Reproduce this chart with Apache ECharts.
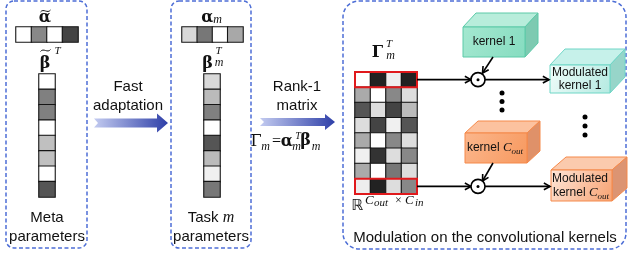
<!DOCTYPE html>
<html><head><meta charset="utf-8">
<script src="https://cdn.jsdelivr.net/npm/echarts@6/dist/echarts.min.js"></script>
<style>html,body{margin:0;padding:0;background:#fff}#c{width:629px;height:256px}</style>
</head><body><div id="c"></div><script>
// gray levels (0 = black, 255 = white)
const metaAlpha = [[255, 136, 255, 68]];
const metaBeta = [[255],[128],[128],[255],[192],[192],[255],[85]];
const taskAlpha = [[216, 119, 255, 168]];
const taskBeta = [[217],[187],[128],[255],[85],[187],[240],[119]];
const gammaRows = [
  [255, 34, 238, 34],
  [170, 255, 136, 221],
  [85, 221, 68, 187],
  [221, 68, 240, 85],
  [170, 255, 136, 221],
  [240, 51, 221, 136],
  [170, 255, 119, 221],
  [238, 34, 221, 136]
];
const highlightRows = [0, 7];

const SANS = 'Liberation Sans', SERIF = 'Liberation Serif', GREEK = 'DejaVu Serif';
const chart = echarts.init(document.getElementById('c'));

const gridDefs = [
  {left:16, top:27, width:62, height:15},
  {left:39, top:74, width:16, height:123},
  {left:182, top:27, width:61, height:15},
  {left:204, top:74, width:16, height:123},
  {left:355, top:72, width:62, height:122}
];
const mats = [metaAlpha, metaBeta, taskAlpha, taskBeta, gammaRows];
const xAxis = [], yAxis = [], series = [];
mats.forEach((m, gi) => {
  const nr = m.length, nc = m[0].length;
  xAxis.push({gridIndex:gi, type:'category', data:[...Array(nc).keys()], show:false});
  yAxis.push({gridIndex:gi, type:'category', data:[...Array(nr).keys()], inverse:true, show:false});
  const data = [];
  m.forEach((row, i) => row.forEach((v, j) => data.push([j, i, v])));
  series.push({type:'heatmap', xAxisIndex:gi, yAxisIndex:gi, data, silent:true,
    itemStyle:{borderColor:'#151515', borderWidth:1.1}, emphasis:{disabled:true}});
});

function T(x, y, text, size, opt) {
  return {type:'text', x, y, z:20, style:Object.assign({text, fontSize:size, fontFamily:SANS,
    fill:'#111', align:'center', verticalAlign:'middle'}, opt || {})};
}
function M(x, y, text, size, opt) { // math italic
  return T(x, y, text, size, Object.assign({fontFamily:SERIF, fontStyle:'italic'}, opt || {}));
}
function B(x, y, text, size, opt) { // bold greek
  return T(x, y, text, size, Object.assign({fontFamily:GREEK, fontWeight:'bold'}, opt || {}));
}
function tilde(cx, cy) {
  return {type:'bezierCurve', z:21, shape:{x1:cx-5, y1:cy+1, cpx1:cx-2, cpy1:cy-3, cpx2:cx+2, cpy2:cy+3, x2:cx+5, y2:cy-1},
    style:{stroke:'#111', lineWidth:1, fill:null}};
}
function arrowEls(x1, y1, x2, y2) {
  const a = Math.atan2(y2 - y1, x2 - x1), L = 7, w = 0.5;
  const p1 = [x2 - L*Math.cos(a-w), y2 - L*Math.sin(a-w)];
  const p2 = [x2 - L*Math.cos(a+w), y2 - L*Math.sin(a+w)];
  return [
    {type:'line', z:15, shape:{x1, y1, x2, y2}, style:{stroke:'#000', lineWidth:1.6}},
    {type:'polyline', z:15, shape:{points:[p1, [x2, y2], p2]}, style:{stroke:'#000', lineWidth:1.6, fill:null}}
  ];
}
function bigArrow(x0, xb, xt, yc, bh, hh) {
  return {type:'polygon', z:5, shape:{points:[[x0, yc-bh],[xb, yc-bh],[xb, yc-hh],[xt, yc],[xb, yc+hh],[xb, yc+bh],[x0, yc+bh],[x0+4, yc]]},
    style:{fill:{type:'linear', x:0, y:0, x2:1, y2:0, colorStops:[{offset:0, color:'#c3cbf0'},{offset:1, color:'#2e3fa8'}]}}};
}
function cube(x, y, w, h, dx, dy, c) {
  return [
    {type:'polygon', z:8, shape:{points:[[x,y],[x+dx,y-dy],[x+w+dx,y-dy],[x+w,y]]}, style:{fill:c.top, stroke:c.edge, lineWidth:1}},
    {type:'polygon', z:8, shape:{points:[[x+w,y],[x+w+dx,y-dy],[x+w+dx,y+h-dy],[x+w,y+h]]}, style:{fill:c.side, stroke:c.edge, lineWidth:1}},
    {type:'rect', z:8, shape:{x, y, width:w, height:h}, style:{fill:{type:'linear', x:0, y:0, x2:1, y2:1,
      colorStops:[{offset:0, color:c.f0},{offset:1, color:c.f1}]}, stroke:c.edge, lineWidth:1}}
  ];
}
function odot(cx, cy) {
  return [
    {type:'circle', z:16, shape:{cx, cy, r:7}, style:{fill:'#fff', stroke:'#000', lineWidth:1.6}},
    {type:'circle', z:17, shape:{cx, cy, r:1.5}, style:{fill:'#000'}}
  ];
}
function dot(cx, cy) { return {type:'circle', z:16, shape:{cx, cy, r:2.5}, style:{fill:'#000'}}; }
function L(x, y, text, size, opt) { return M(x, y, text, size, Object.assign({align:'left'}, opt || {})); }

const dash = {stroke:'#4d6ed6', lineWidth:1.5, lineDash:[4, 2.5], fill:null};
const green = {top:'#b8eddb', side:'#7dcab1', f0:'#a4e8d0', f1:'#86dcc0', edge:'#5ccaa8'};
const cyan = {top:'#c6f1ea', side:'#97d5c9', f0:'#f0fcfa', f1:'#b4eae1', edge:'#6fd6c6'};
const orange = {top:'#fcc29f', side:'#df9169', f0:'#fbb68c', f1:'#f7995f', edge:'#f5894a'};
const orange2 = {top:'#fbcaad', side:'#dc9472', f0:'#fee6d8', f1:'#f6a272', edge:'#f5894a'};

const g = gridDefs[4];
const rowH = g.height / gammaRows.length;
const els = [];
// panels
els.push({type:'rect', z:1, shape:{x:6, y:1, width:81, height:247, r:8}, style:dash});
els.push({type:'rect', z:1, shape:{x:171, y:1, width:80, height:247, r:8}, style:dash});
els.push({type:'rect', z:1, shape:{x:343, y:1, width:283, height:248, r:16}, style:dash});
// big arrows
els.push(bigArrow(94, 157, 168, 123, 4.5, 9.5));
els.push(bigArrow(260, 325, 335, 122, 4, 8));
// texts
els.push(T(47, 218, 'Meta', 15), T(47, 237, 'parameters', 15));
els.push(T(211, 218, 'Task {m|m}', 15, {rich:{m:{fontFamily:SERIF, fontStyle:'italic', fontSize:16}}}), T(211, 237, 'parameters', 15));
els.push(T(128, 87, 'Fast', 15), T(128, 106, 'adaptation', 15));
els.push(T(297, 87, 'Rank-1', 15), T(297, 106, 'matrix', 15));
els.push(T(485, 238, 'Modulation on the convolutional kernels', 15));
// math labels
els.push(B(45, 18, 'α', 16), tilde(45.5, 11));
els.push(B(45, 64, 'β', 16), tilde(45.5, 50.5), M(57.5, 51.5, 'T', 11));
els.push(B(207.5, 18, 'α', 16), M(217.5, 20, 'm', 12));
els.push(B(207.5, 64, 'β', 16), M(218.5, 51.5, 'T', 11), M(219, 63, 'm', 12));
els.push(B(377.5, 52.5, 'Γ', 16), M(389, 44.5, 'T', 11), M(390.5, 55.5, 'm', 12));
els.push(T(256, 141.5, 'Γ', 16, {fontFamily:GREEK}), M(265.5, 147, 'm', 12), T(276.5, 141.5, '=', 16, {fontFamily:SERIF}),
  B(287, 141.5, 'α', 16), M(298, 136, 'T', 10), M(296.5, 147, 'm', 12), B(305.5, 140.5, 'β', 16), M(316, 147, 'm', 12));
// R^{Cout x Cin}
els.push(T(357.5, 206.5, 'ℝ', 15, {fontFamily:'DejaVu Sans'}));
els.push(L(365, 200.5, 'C', 13), L(374, 203, 'out', 11, {letterSpacing:1}), L(395, 200.5, '×', 12, {fontStyle:'normal'}),
  L(405, 200.5, 'C', 13), L(415, 203, 'in', 11, {letterSpacing:1}));
// red highlight rows
highlightRows.forEach(r => els.push({type:'rect', z:12, shape:{x:g.left, y:g.top + r*rowH, width:g.width, height:rowH},
  style:{fill:null, stroke:'#e0191c', lineWidth:2}}));
// cubes
els.push(...cube(463, 27, 62, 30, 13, 14, green));
els.push(...cube(550, 65, 60, 28, 15, 16, cyan));
els.push(...cube(465, 133, 62, 30, 13, 12, orange));
els.push(...cube(551, 170, 61, 31, 15, 13, orange2));
els.push(T(494, 42, 'kernel 1', 12));
els.push(T(580, 73, 'Modulated', 12), T(580, 86, 'kernel 1', 12));
const cRich = {c:{fontFamily:SERIF, fontStyle:'italic', fontSize:13, lineHeight:14}, s:{fontFamily:SERIF, fontStyle:'italic', fontSize:9, verticalAlign:'bottom', lineHeight:7}};
els.push(T(495, 148, 'kernel {c|C}{s|out}', 12, {rich:cRich, lineHeight:16}));
els.push(T(580, 179, 'Modulated', 12), T(581, 193, 'kernel {c|C}{s|out}', 12, {rich:cRich, lineHeight:16}));
// arrows and odots
const y1 = g.top + rowH/2, y8 = g.top + g.height - rowH/2;
const ox = 478;
els.push(...arrowEls(g.left + g.width, y1, ox - 7, y1), ...arrowEls(ox + 7, y1, 549, y1));
els.push(...arrowEls(g.left + g.width, y8, ox - 7, y8), ...arrowEls(ox + 7, y8, 550, y8));
els.push(...arrowEls(493, 57, 482.5, 73), ...arrowEls(493, 163, 482.5, 181));
els.push(...odot(ox, y1), ...odot(ox, y8));
els.push(dot(502, 93), dot(502, 101.5), dot(502, 110));
els.push(dot(585, 117), dot(585, 126), dot(585, 135));

chart.setOption({
  animation:false,
  grid: gridDefs,
  xAxis, yAxis, series,
  visualMap:{type:'continuous', min:0, max:255, show:false, dimension:2, inRange:{color:['#000000', '#ffffff']}},
  graphic:{elements:els}
});
</script></body></html>
